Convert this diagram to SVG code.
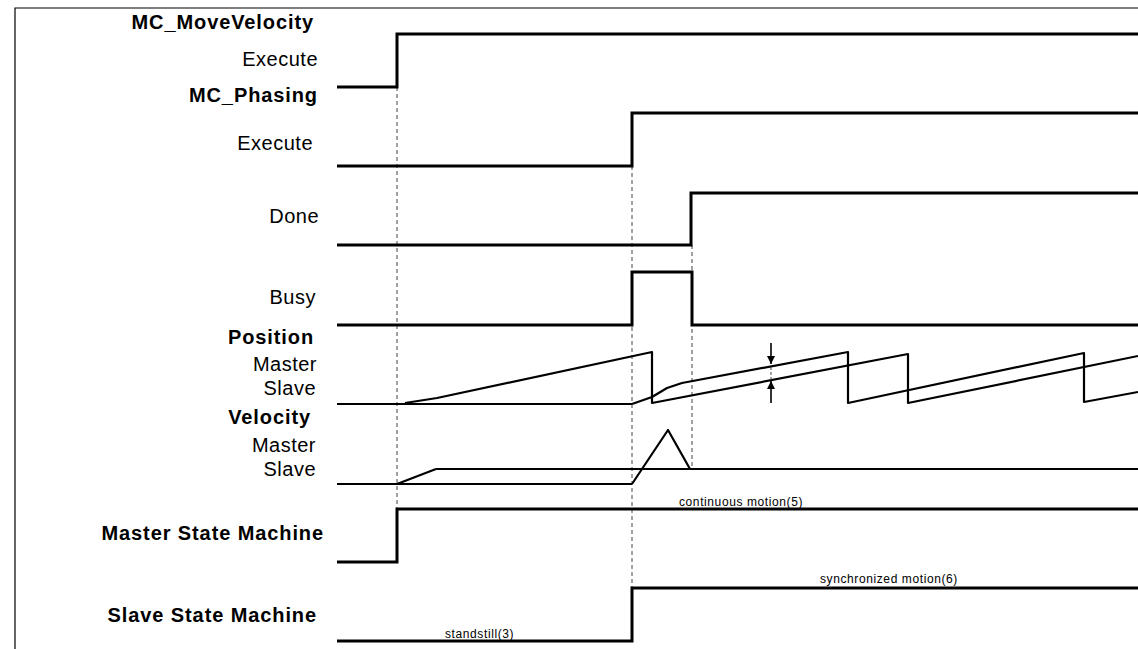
<svg xmlns="http://www.w3.org/2000/svg" width="1138" height="649" viewBox="0 0 1138 649">
<style>
.lbl{font-family:"Liberation Sans",Arial,sans-serif;font-size:20px;fill:#000;text-anchor:end;letter-spacing:0.5px}
.b{font-weight:bold;letter-spacing:0.9px}
.sm{font-family:"Liberation Sans",Arial,sans-serif;font-size:12px;fill:#000;letter-spacing:0.6px}
.sig{fill:none;stroke:#000;stroke-width:3;stroke-linejoin:miter}
.wave{fill:none;stroke:#000;stroke-width:2.2;stroke-linejoin:round}
.dash{fill:none;stroke:#444;stroke-width:1;stroke-dasharray:4 3}
</style>
<defs>
<marker id="ah" viewBox="0 0 10 10" refX="10" refY="5" markerWidth="5" markerHeight="5" orient="auto" markerUnits="strokeWidth">
<path d="M0,0 L10,5 L0,10 z" fill="#000"/>
</marker>
</defs>
<rect width="1138" height="649" fill="#fff"/>
<path d="M15,649 V8 H1138" fill="none" stroke="#000" stroke-width="1.2"/>

<g id="labels">
<text class="lbl b" x="314" y="29">MC_MoveVelocity</text>
<text class="lbl" x="318" y="66">Execute</text>
<text class="lbl b" x="318" y="102">MC_Phasing</text>
<text class="lbl" x="313" y="150">Execute</text>
<text class="lbl" x="319" y="223">Done</text>
<text class="lbl" x="316" y="304">Busy</text>
<text class="lbl b" x="314" y="344">Position</text>
<text class="lbl" x="317" y="371">Master</text>
<text class="lbl" x="316" y="395">Slave</text>
<text class="lbl b" x="311" y="424">Velocity</text>
<text class="lbl" x="316" y="452">Master</text>
<text class="lbl" x="316" y="476">Slave</text>
<text class="lbl b" x="324" y="540">Master State Machine</text>
<text class="lbl b" x="317" y="622">Slave State Machine</text>
</g>

<g id="guides">
<line class="dash" x1="397" y1="87" x2="397" y2="509"/>
<line class="dash" x1="632" y1="166" x2="632" y2="588"/>
<line class="dash" x1="692" y1="245" x2="692" y2="469"/>
</g>

<g id="mv-execute"><path class="sig" d="M337,87 H397 V34 H1138"/></g>
<g id="ph-execute"><path class="sig" d="M337,166 H632 V113 H1138"/></g>
<g id="ph-done"><path class="sig" d="M337,245 H691 V193 H1138"/></g>
<g id="ph-busy"><path class="sig" d="M337,325 H632 V272 H692 V325 H1138"/></g>

<g id="position">
<path class="wave" stroke-width="3" d="M337,404 H632"/>
<path class="wave" d="M405,403 L437,398 L652,352 L652,403 L908,354 L908,403 L1138,356"/>
<path class="wave" d="M632,404 L652,397 L667,388 L682,383 L848,352 L848,403 L1084,353 L1084,402 L1138,392"/>
</g>

<g id="phase-arrows">
<line x1="771" y1="343" x2="771" y2="364" stroke="#000" stroke-width="1.6" marker-end="url(#ah)"/>
<line x1="771" y1="403" x2="771" y2="381" stroke="#000" stroke-width="1.6" marker-end="url(#ah)"/>
<line x1="771" y1="367" x2="771" y2="380" stroke="#444" stroke-width="1" stroke-dasharray="3 2"/>
</g>

<g id="velocity">
<path class="wave" stroke-width="3" d="M337,484 H632"/>
<path class="wave" d="M397,484 L436,469"/>
<path class="wave" stroke-width="3" d="M436,469 H1138"/>
<path class="wave" d="M632,484 L668,430 L690,469"/>
</g>

<g id="master-sm">
<path class="sig" d="M337,562 H397 V509 H1138"/>
<text class="sm" x="679" y="506">continuous motion(5)</text>
</g>

<g id="slave-sm">
<path class="sig" d="M337,641 H632 V588 H1138"/>
<text class="sm" x="445" y="638">standstill(3)</text>
<text class="sm" x="820" y="583">synchronized motion(6)</text>
</g>
</svg>
